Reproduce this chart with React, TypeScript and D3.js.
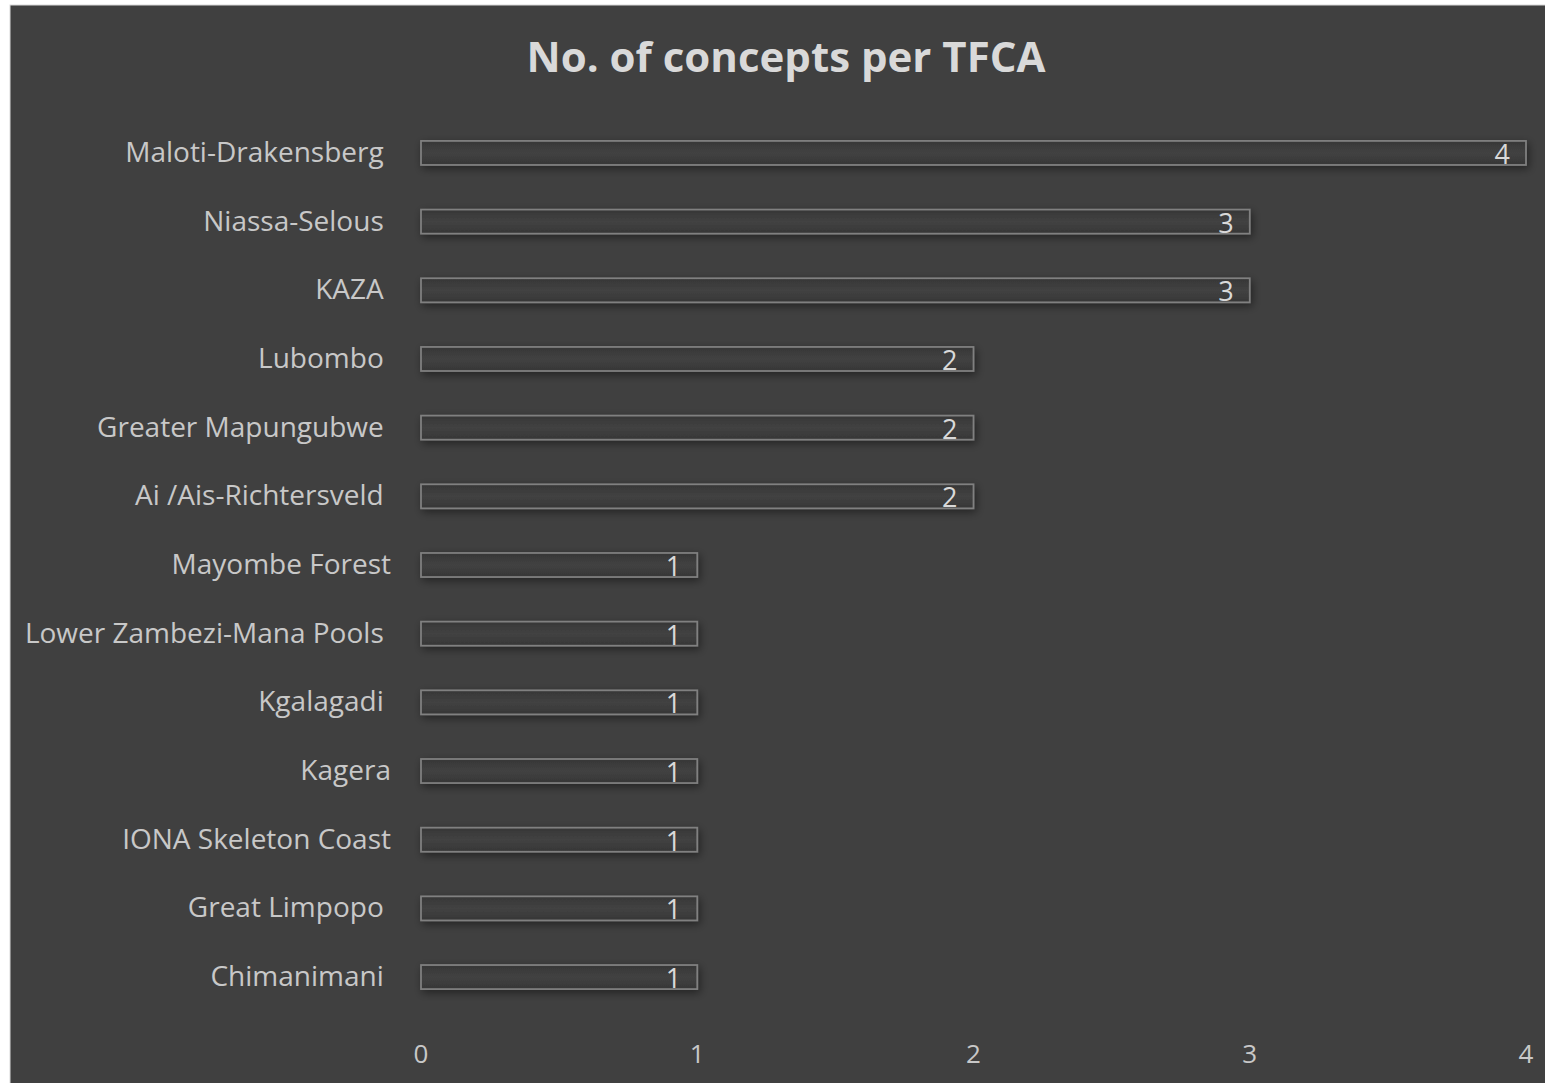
import { useRef, useEffect } from "react"
import * as d3 from "d3"

// trailing spaces kept where the source labels had them
const tfcaNames = [
  "Maloti-Drakensberg ",
  "Niassa-Selous ",
  "KAZA ",
  "Lubombo ",
  "Greater Mapungubwe ",
  "Ai /Ais-Richtersveld ",
  "Mayombe Forest",
  "Lower Zambezi-Mana Pools ",
  "Kgalagadi ",
  "Kagera",
  "IONA Skeleton Coast",
  "Great Limpopo ",
  "Chimanimani ",
]
const conceptCounts = [4, 3, 3, 2, 2, 2, 1, 1, 1, 1, 1, 1, 1]
const xTicks = [0, 1, 2, 3, 4]

export default function App() {
  const svgRef = useRef<SVGSVGElement>(null)

  function drawChart() {
    const width = 1545
    const height = 1083
    const fontFamily = "'Open Sans', 'Noto Sans', sans-serif"

    const svg = d3.select(svgRef.current).attr("width", width).attr("height", height)
    svg.selectAll("*").remove()

    const defs = svg.append("defs")
    const shadow = defs
      .append("filter")
      .attr("id", "barShadow")
      .attr("x", "-5%")
      .attr("y", "-60%")
      .attr("width", "110%")
      .attr("height", "220%")
    shadow.append("feGaussianBlur").attr("in", "SourceAlpha").attr("stdDeviation", 4).attr("result", "blur")
    shadow.append("feOffset").attr("dx", 2).attr("dy", 3).attr("result", "off")
    shadow
      .append("feComponentTransfer")
      .append("feFuncA")
      .attr("type", "linear")
      .attr("slope", 0.45)
    const merge = shadow.append("feMerge")
    merge.append("feMergeNode")
    merge.append("feMergeNode").attr("in", "SourceGraphic")

    const grad = defs
      .append("linearGradient")
      .attr("id", "barFill")
      .attr("x1", 0)
      .attr("y1", 0)
      .attr("x2", 0)
      .attr("y2", 1)
    grad.append("stop").attr("offset", "0%").attr("stop-color", "#363636")
    grad.append("stop").attr("offset", "50%").attr("stop-color", "#424242")
    grad.append("stop").attr("offset", "100%").attr("stop-color", "#363636")

    svg.append("rect").attr("width", width).attr("height", height).attr("fill", "#ffffff")
    svg
      .append("rect")
      .attr("x", 10)
      .attr("y", 5)
      .attr("width", width)
      .attr("height", height)
      .attr("fill", "#404040")
      .attr("stroke", "#d9d9d9")
      .attr("stroke-width", 1)

    const x = d3.scaleLinear().domain([0, 4]).range([421, 1526])
    const y = d3
      .scaleBand()
      .domain(tfcaNames)
      .range([118.6, 1011.4])
      .paddingInner(0.65)
      .paddingOuter(0.325)

    // Title
    svg
      .append("text")
      .text("No. of concepts per TFCA")
      .attr("x", 786)
      .attr("y", 72)
      .attr("text-anchor", "middle")
      .style("font-family", fontFamily)
      .style("font-size", "42px")
      .style("font-weight", "bold")
      .style("fill", "#d9d9d9")

    // Bars
    const rows = tfcaNames.map((name, i) => ({ name, value: conceptCounts[i] }))
    svg
      .append("g")
      .selectAll("rect")
      .data(rows)
      .enter()
      .append("rect")
      .attr("x", x(0))
      .attr("y", (d) => y(d.name)!)
      .attr("width", (d) => x(d.value) - x(0))
      .attr("height", y.bandwidth())
      .attr("fill", "url(#barFill)")
      .attr("stroke", "#808080")
      .attr("stroke-width", 1.75)
      .attr("filter", "url(#barShadow)")

    // Value labels
    svg
      .append("g")
      .selectAll("text")
      .data(rows)
      .enter()
      .append("text")
      .text((d) => d.value)
      .attr("x", (d) => x(d.value) - 16)
      .attr("y", (d) => y(d.name)! + y.bandwidth() / 2 + 11)
      .attr("text-anchor", "end")
      .style("font-family", fontFamily)
      .style("font-size", "27px")
      .style("fill", "#d9d9d9")

    // Category labels
    svg
      .append("g")
      .selectAll("text")
      .data(tfcaNames)
      .enter()
      .append("text")
      .text((d) => d)
      .attr("x", 391)
      .attr("y", (d) => y(d)! + y.bandwidth() / 2 + 9)
      .attr("text-anchor", "end")
      .style("white-space", "pre")
      .style("font-family", fontFamily)
      .style("font-size", "28px")
      .style("fill", "#c8c8c8")

    // Bottom axis
    svg
      .append("g")
      .selectAll("text")
      .data(xTicks)
      .enter()
      .append("text")
      .text((d) => d)
      .attr("x", (d) => x(d))
      .attr("y", 1063)
      .attr("text-anchor", "middle")
      .style("font-family", fontFamily)
      .style("font-size", "26px")
      .style("fill", "#c8c8c8")
  }

  useEffect(() => {
    drawChart()
  }, [svgRef])

  return (
    <div style={{ position: "absolute", left: 0, top: 0 }}>
      <svg ref={svgRef} style={{ display: "block" }}></svg>
    </div>
  )
}
